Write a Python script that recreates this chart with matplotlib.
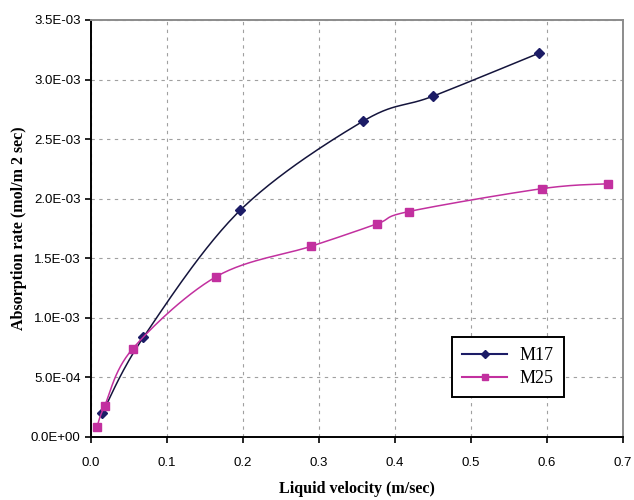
import numpy as np
import matplotlib
matplotlib.use("Agg")
import matplotlib.pyplot as plt

m17_x = [0.015, 0.069, 0.196, 0.358, 0.450, 0.589]
m17_y = [0.20e-3, 0.835e-3, 1.90e-3, 2.65e-3, 2.86e-3, 3.22e-3]
m25_x = [0.008, 0.018, 0.055, 0.165, 0.290, 0.376, 0.418, 0.594, 0.680]
m25_y = [0.085e-3, 0.26e-3, 0.74e-3, 1.345e-3, 1.60e-3, 1.787e-3, 1.891e-3, 2.084e-3, 2.124e-3]

x_ticks = [0.0, 0.1, 0.2, 0.3, 0.4, 0.5, 0.6, 0.7]
y_ticks = [0.0, 0.5e-3, 1.0e-3, 1.5e-3, 2.0e-3, 2.5e-3, 3.0e-3, 3.5e-3]


def smooth(xs, ys, n=30):
    # Excel-style smoothed line: cubic Bezier segments, Catmull-Rom control points
    xs = np.asarray(xs, float)
    ys = np.asarray(ys, float)
    px = np.concatenate([[xs[0]], xs, [xs[-1]]])
    py = np.concatenate([[ys[0]], ys, [ys[-1]]])
    outx, outy = [], []
    t = np.linspace(0, 1, n)
    for i in range(1, len(px) - 2):
        p0 = np.array([px[i], py[i]])
        p3 = np.array([px[i + 1], py[i + 1]])
        p1 = p0 + (np.array([px[i + 1], py[i + 1]]) - np.array([px[i - 1], py[i - 1]])) / 6
        p2 = p3 - (np.array([px[i + 2], py[i + 2]]) - np.array([px[i], py[i]])) / 6
        b = ((1 - t) ** 3)[:, None] * p0 + (3 * (1 - t) ** 2 * t)[:, None] * p1 \
            + (3 * (1 - t) * t ** 2)[:, None] * p2 + (t ** 3)[:, None] * p3
        outx.extend(b[:, 0])
        outy.extend(b[:, 1])
    return outx, outy


fig = plt.figure(figsize=(6.34, 5.0), dpi=100)
ax = fig.add_axes([0.1435, 0.1266, 0.8391, 0.8334])

navy = "#1c1c66"
magenta = "#c2309f"

sx, sy = smooth(m17_x, m17_y)
ax.plot(sx, sy, color="#14143c", lw=1.1)
ax.plot(m17_x, m17_y, ls="none", marker="D", ms=5, color=navy)
sx, sy = smooth(m25_x, m25_y)
ax.plot(sx, sy, color=magenta, lw=1.1)
ax.plot(m25_x, m25_y, ls="none", marker="s", ms=6, color=magenta)

# legend proxies
ax.plot([], [], color=navy, marker="D", ms=4.5, lw=1.5, label="M17")
ax.plot([], [], color=magenta, marker="s", ms=4.5, lw=1.5, label="M25")

ax.set_xlim(0, 0.7)
ax.set_ylim(0, 3.5e-3)
ax.set_xticks(x_ticks)
ax.set_xticklabels([f"{v:.1f}" for v in x_ticks], fontfamily="Liberation Sans", fontsize=9.5)
ax.set_yticks(y_ticks)
ax.set_yticklabels([f"{v:.1E}" for v in y_ticks], fontfamily="Liberation Sans", fontsize=9.5)
ax.tick_params(direction="out", length=4.5, width=1.2)
ax.tick_params(axis="y", pad=3)
ax.tick_params(axis="x", pad=10)
ax.grid(True, ls=(0, (3, 4)), color="#a0a0a0", lw=0.8)

for s in ["left", "bottom"]:
    ax.spines[s].set_color("black")
    ax.spines[s].set_linewidth(1.4)
for s in ["top", "right"]:
    ax.spines[s].set_color("#8c8c8c")
    ax.spines[s].set_linewidth(1.4)

ax.set_xlabel("Liquid velocity (m/sec)", fontfamily="Liberation Serif",
              fontweight="bold", fontsize=11.5, labelpad=9)
ax.set_ylabel("Absorption rate (mol/m 2 sec)", fontfamily="Liberation Serif",
              fontweight="bold", fontsize=11.5, va="center")
ax.yaxis.set_label_coords(-0.135, 0.5)

leg_handles = ax.get_lines()[-2:]
leg = ax.legend(handles=leg_handles, loc="lower left", bbox_to_anchor=(0.662, 0.073),
                prop={"family": "Liberation Serif", "size": 13}, frameon=True,
                fancybox=False, edgecolor="black", framealpha=1,
                handlelength=2.5, handletextpad=0.7, borderpad=0.55,
                labelspacing=0.35, borderaxespad=0.5)
leg.get_frame().set_linewidth(1.4)

fig.savefig("out.png", dpi=100)
